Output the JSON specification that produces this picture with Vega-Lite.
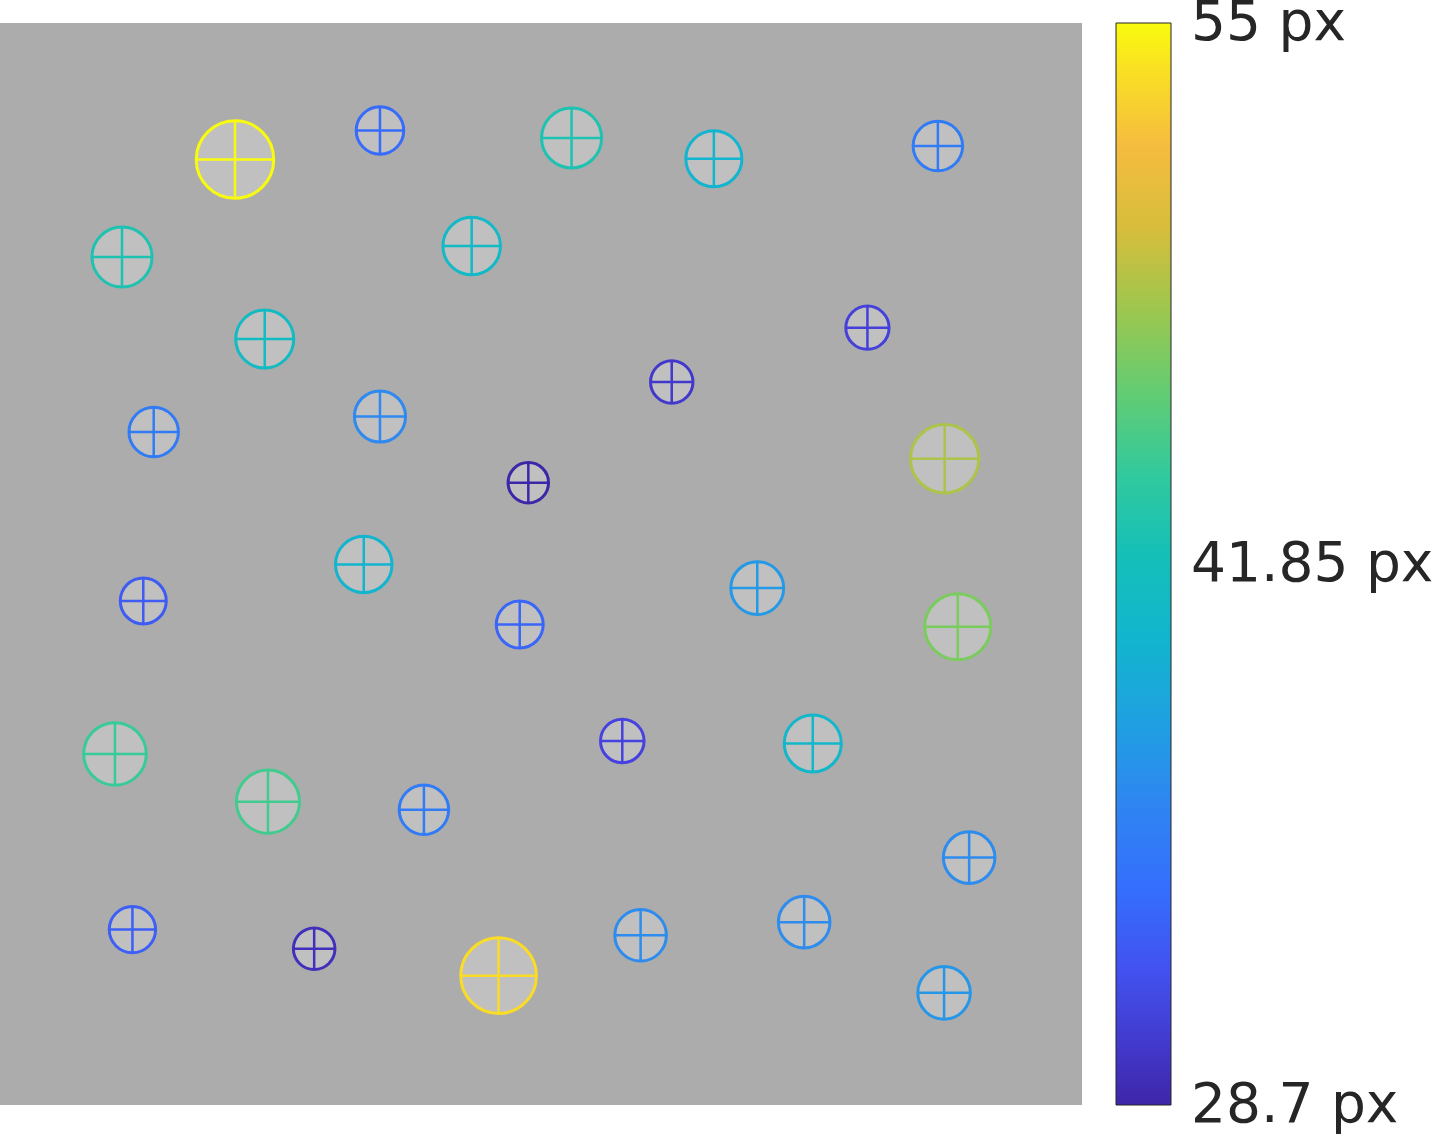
{
  "$schema": "https://vega.github.io/schema/vega-lite/v6.json",
  "width": 1082,
  "height": 1082,
  "autosize": {"type": "none"},
  "padding": {"left": 0, "top": 23, "right": 350, "bottom": 32},
  "background": "#ffffff",
  "view": {"fill": "#acacac", "stroke": null},
  "data": {
    "values": [
      {"x": 166.8, "y": 96.9, "d": 55.0},
      {"x": 269.7, "y": 76.3, "d": 33.7},
      {"x": 405.7, "y": 81.6, "d": 42.6},
      {"x": 506.7, "y": 96.4, "d": 39.8},
      {"x": 665.7, "y": 87.3, "d": 35.1},
      {"x": 86.6, "y": 166.1, "d": 42.6},
      {"x": 334.8, "y": 158.3, "d": 40.8},
      {"x": 615.7, "y": 216.3, "d": 30.7},
      {"x": 187.9, "y": 224.3, "d": 41.2},
      {"x": 476.8, "y": 254.8, "d": 30.1},
      {"x": 109.1, "y": 290.3, "d": 35.1},
      {"x": 269.7, "y": 279.3, "d": 36.3},
      {"x": 670.5, "y": 309.3, "d": 48.5},
      {"x": 375.0, "y": 326.3, "d": 28.7},
      {"x": 258.2, "y": 384.3, "d": 40.1},
      {"x": 101.7, "y": 410.2, "d": 32.6},
      {"x": 537.5, "y": 401.1, "d": 37.5},
      {"x": 368.9, "y": 427.0, "d": 33.3},
      {"x": 679.8, "y": 428.5, "d": 46.9},
      {"x": 441.7, "y": 509.6, "d": 30.9},
      {"x": 81.6, "y": 518.8, "d": 44.4},
      {"x": 576.9, "y": 511.4, "d": 40.5},
      {"x": 190.2, "y": 552.7, "d": 44.8},
      {"x": 300.9, "y": 558.4, "d": 35.1},
      {"x": 687.9, "y": 592.4, "d": 36.6},
      {"x": 94.0, "y": 643.5, "d": 32.9},
      {"x": 223.0, "y": 657.1, "d": 29.5},
      {"x": 353.9, "y": 676.2, "d": 53.7},
      {"x": 454.7, "y": 647.5, "d": 36.6},
      {"x": 570.8, "y": 638.2, "d": 36.6},
      {"x": 670.1, "y": 688.4, "d": 37.3}
    ]
  },
  "encoding": {
    "x": {"field": "x", "type": "quantitative", "axis": null, "scale": {"domain": [0, 768], "nice": false, "zero": false}},
    "y": {"field": "y", "type": "quantitative", "axis": null, "scale": {"domain": [0, 768], "nice": false, "zero": false, "reverse": true}},
    "size": {"field": "d", "type": "quantitative", "legend": null, "scale": {"type": "pow", "exponent": 2, "domain": [0, 55], "range": [0, 6006]}}
  },
  "layer": [
    {
      "mark": {"type": "point", "shape": "circle", "filled": true, "fill": "#cdcdcd", "opacity": 0.6, "strokeWidth": 0}
    },
    {
      "mark": {"type": "point", "shape": "circle", "filled": false, "strokeWidth": 3, "opacity": 1},
      "encoding": {
        "color": {
          "field": "d", "type": "quantitative", "title": null,
          "scale": {
            "domain": [28.7, 31.33, 33.96, 36.59, 39.22, 41.85, 44.48, 47.11, 49.74, 52.37, 55],
            "range": ["#3e26a8", "#4748eb", "#346ffd", "#2d8cee", "#12b1d6", "#12bebb", "#38cb97", "#80cc59", "#d3bd3a", "#fbbc40", "#f9fb0e"],
            "interpolate": "rgb"
          },
          "legend": {
            "values": [28.7001, 41.85, 54.9999],
            "labelExpr": "round(datum.value * 100) / 100 + ' px'",
            "gradientLength": 1082,
            "gradientThickness": 55,
            "gradientStrokeColor": "#262626",
            "gradientStrokeWidth": 1,
            "labelFontSize": 55,
            "labelFont": "DejaVu Sans",
            "labelColor": "#262626",
            "labelOffset": 20,
            "labelLimit": 500,
            "labelAlign": "left",
            "labelOverlap": false,
            "offset": 34,
            "padding": 0
          }
        }
      }
    },
    {
      "mark": {"type": "point", "shape": "M-1,0L1,0M0,-1L0,1", "filled": false, "strokeWidth": 2.5, "opacity": 1},
      "encoding": {
        "color": {"field": "d", "type": "quantitative"}
      }
    }
  ]
}
